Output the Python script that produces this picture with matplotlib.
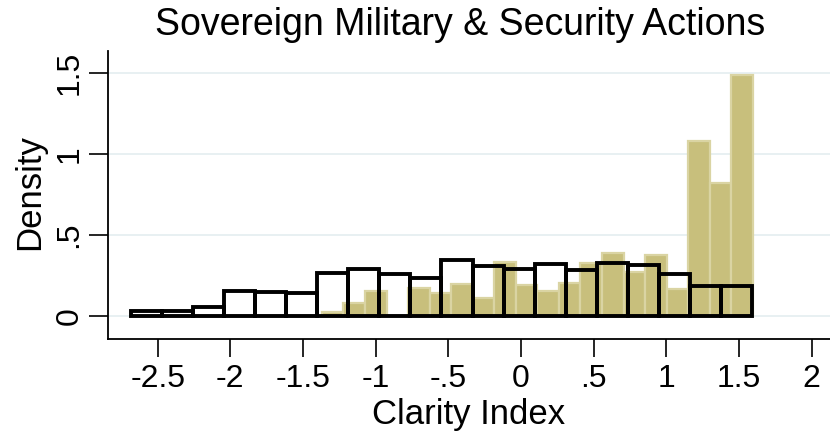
import matplotlib.pyplot as plt
import numpy as np

plt.rcParams['font.family'] = ['Liberation Sans', 'DejaVu Sans']

# sovereign military & security actions (filled khaki histogram)
sov_start = -1.37
sov_width = 0.1483
sov_density = [0.025, 0.078, 0.156, 0.0, 0.171, 0.144, 0.198, 0.109, 0.335, 0.190,
               0.156, 0.202, 0.325, 0.387, 0.270, 0.375, 0.165, 1.082, 0.819, 1.488]

# all other actions (outline histogram)
all_start = -2.684
all_width = 0.2137
all_density = [0.030, 0.030, 0.054, 0.156, 0.146, 0.140, 0.264, 0.288, 0.259, 0.237,
               0.346, 0.309, 0.288, 0.319, 0.287, 0.325, 0.315, 0.257, 0.187, 0.187]

xticks = [-2.5, -2, -1.5, -1, -0.5, 0, 0.5, 1, 1.5, 2]
xticklabels = ['-2.5', '-2', '-1.5', '-1', '-.5', '0', '.5', '1', '1.5', '2']
yticks = [0, 0.5, 1, 1.5]
yticklabels = ['0', '.5', '1', '1.5']

fig = plt.figure(figsize=(8.3, 4.34), dpi=100)
ax = fig.add_axes([108 / 830, 1 - 339 / 434, 1 - 108 / 830, (339 - 51) / 434])

sov_left = sov_start + sov_width * np.arange(len(sov_density))
all_left = all_start + all_width * np.arange(len(all_density))

ax.bar(sov_left, sov_density, width=sov_width, align='edge',
       color='#C8BF7C', edgecolor='#DAD4A3', linewidth=1.6, zorder=2)
ax.bar(all_left, all_density, width=all_width, align='edge',
       facecolor='none', edgecolor='black', linewidth=2.8, zorder=3)

ax.set_xlim(-2.842, 2.127)
ax.set_ylim(-0.142, 1.636)

ax.set_xticks(xticks)
ax.set_xticklabels(xticklabels)
ax.set_yticks(yticks)
ax.set_yticklabels(yticklabels, rotation=90, va='center')

ax.tick_params(axis='both', labelsize=23, length=13, width=1.2, direction='out')
ax.tick_params(axis='x', pad=5)
ax.tick_params(axis='y', length=14, pad=3)

ax.grid(axis='y', color='#E8F0F2', linewidth=1.4, zorder=0)
ax.set_axisbelow(True)

for s in ['top', 'right']:
    ax.spines[s].set_visible(False)
for s in ['left', 'bottom']:
    ax.spines[s].set_linewidth(1.3)

fig.text(469 / 830, 1 - 424 / 434, 'Clarity Index', fontsize=25,
         ha='center', va='baseline')
fig.text(30 / 830, 1 - 192 / 434, 'Density', fontsize=25, rotation=90,
         ha='center', va='center')

fig.text(460 / 830, 1 - 25 / 434, 'Sovereign Military & Security Actions',
         fontsize=27, ha='center', va='center')

fig.savefig('out.png', dpi=100)
